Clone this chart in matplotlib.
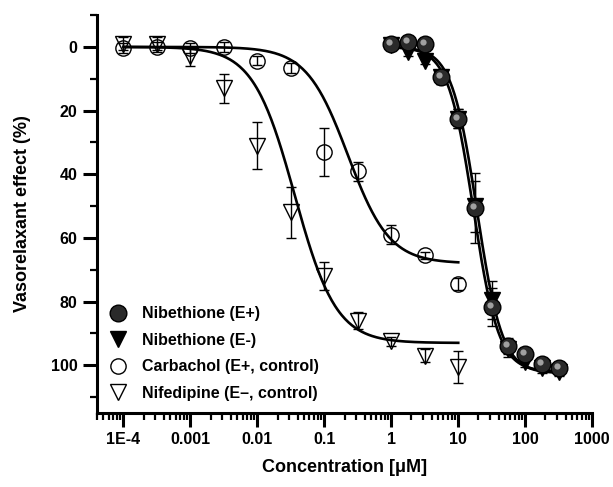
import numpy as np
import matplotlib
matplotlib.use("Agg")
import matplotlib.pyplot as plt
from matplotlib import transforms
from matplotlib.lines import Line2D

plt.rcParams['font.family'] = ['Liberation Sans', 'DejaVu Sans']
plt.rcParams['font.weight'] = 'bold'

# concentrations in uM
conc_ctrl = [1e-4, 3.16e-4, 1e-3, 3.16e-3, 1e-2, 3.16e-2, 0.1, 0.316, 1, 3.16, 10]
conc_nib = [1, 1.78, 3.16, 5.62, 10, 17.8, 31.6, 56.2, 100, 178, 316]

# carbachol (E+, control)
carb_y = [0.4, 0, 0.4, 0, 4.3, 6.7, 33, 39, 59, 65.5, 74.5]
carb_err = [1.5, 1.5, 1.5, 1.5, 1.5, 1.5, 7.5, 3, 3, 1, 2]
# nifedipine (E-, control)
nif_y = [-1, -1, 3, 13, 31, 52, 72, 86, 92.5, 97, 100.5]
nif_err = [2, 2, 3, 4.5, 7.5, 8, 4.5, 2.7, 1.5, 2, 5]
# nibethione E+ / E-
nibp_y = [-1, -1.5, -1, 9.5, 22.5, 50.5, 81.6, 94, 96.5, 99.5, 101]
nibp_err = [1, 1, 1, 2, 3, 11, 6, 2.5, 1.5, 1.5, 1.5]
nibm_y = [-0.5, 1.7, 4.3, 9.5, 22.5, 50, 79.5, 95, 99, 101, 102]
nibm_err = [1, 1, 1, 2, 3, 8, 6, 2.5, 1.5, 1.5, 1.5]

# sigmoidal fit parameters: top, EC50, hill slope, x-range
fit_carb = [68, 0.225, 1.4, 1e-4, 10]
fit_nif = [93, 0.036, 1.4, 1e-4, 10]
fit_nibp = [102, 16.8, 2.3, 1, 316]
fit_nibm = [102.5, 19.0, 2.3, 1, 316]

xticks = [1e-4, 1e-3, 1e-2, 1e-1, 1, 10, 100, 1000]
xticklabels = ['1E-4', '0.001', '0.01', '0.1', '1', '10', '100', '1000']
labels = ['Nibethione (E+)', 'Nibethione (E-)', 'Carbachol (E+, control)',
          'Nifedipine (E\u2013, control)']


def hill(p):
    top, ec50, n, lo, hi = p
    x = np.logspace(np.log10(lo), np.log10(hi), 300)
    return x, top / (1 + (ec50 / x) ** n)


fig = plt.figure(figsize=(6.13, 4.87), dpi=100)
ax = fig.add_axes([0.158, 0.152, 0.808, 0.817])

for p in (fit_carb, fit_nif, fit_nibp, fit_nibm):
    x, y = hill(p)
    ax.plot(x, y, color='black', lw=1.9, zorder=2)

eb = dict(ecolor='black', elinewidth=1.0, capsize=3.5, capthick=1.0, ls='none')

ax.errorbar(conc_nib, nibm_y, yerr=nibm_err, marker='v', ms=12, mfc='black',
            mec='black', zorder=3, **eb)
ax.errorbar(conc_nib, nibp_y, yerr=nibp_err, marker='o', ms=12, mfc='#2a2a2a',
            mec='black', mew=1, zorder=4, **eb)
# highlight on the spheres
hl = transforms.offset_copy(ax.transData, fig=fig, x=-2, y=2, units='dots')
ax.plot(conc_nib, nibp_y, 'o', ms=4.5, color='#a0a0a0', mec='none', transform=hl, zorder=5)
ax.errorbar(conc_ctrl, carb_y, yerr=carb_err, marker='o', ms=11, mfc='none',
            mec='black', mew=1, zorder=3, **eb)
ax.errorbar(conc_ctrl, nif_y, yerr=nif_err, marker='v', ms=12, mfc='none',
            mec='black', mew=1, zorder=3, **eb)

ax.set_xscale('log')
ax.set_xlim(4e-5, 1000)
ax.set_ylim(115, -10)
ax.set_xticks(xticks)
ax.set_xticklabels(xticklabels)
ax.set_yticks([0, 20, 40, 60, 80, 100])
ax.set_yticks([-10, 10, 30, 50, 70, 90, 110], minor=True)

for s in ('top', 'right'):
    ax.spines[s].set_visible(False)
for s in ('left', 'bottom'):
    ax.spines[s].set_linewidth(2.2)

ax.tick_params(which='major', length=10, width=2.2, direction='out', labelsize=11.5, pad=4)
ax.tick_params(which='minor', length=5, width=1.6, direction='out')

ax.set_xlabel('Concentration [\u03bcM]', fontsize=13, fontweight='bold', labelpad=8)
ax.set_ylabel('Vasorelaxant effect (%)', fontsize=13, fontweight='bold', labelpad=14)

handles = [
    Line2D([], [], ls='none', marker='o', ms=12, mfc='#2a2a2a', mec='black'),
    Line2D([], [], ls='none', marker='v', ms=12, mfc='black', mec='black'),
    Line2D([], [], ls='none', marker='o', ms=11, mfc='none', mec='black'),
    Line2D([], [], ls='none', marker='v', ms=12, mfc='none', mec='black'),
]
ax.legend(handles, labels, loc='lower left', bbox_to_anchor=(0.0, 0.0), frameon=False,
          fontsize=11.5, handlelength=1.2, handletextpad=0.9,
          labelspacing=0.72, borderaxespad=0.35)

fig.savefig('out.png', dpi=100)
